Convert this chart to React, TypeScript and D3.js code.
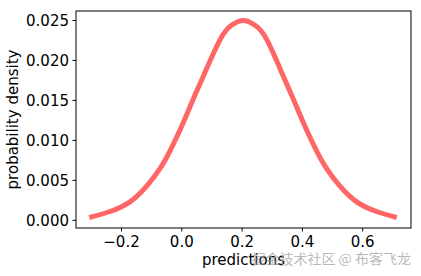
import React from "react";
import * as d3 from "d3";

const xValues = [-0.307, -0.238, -0.172, -0.116, -0.072, -0.039, 0.0, 0.035, 0.071, 0.127, 0.165, 0.204, 0.243, 0.282, 0.337, 0.373, 0.408, 0.447, 0.48, 0.524, 0.58, 0.646, 0.713];
const yValues = [0.00035, 0.0011, 0.0023, 0.0043, 0.0065, 0.0087, 0.0118, 0.0149, 0.018, 0.0226, 0.0244, 0.025, 0.0244, 0.0226, 0.018, 0.0149, 0.0118, 0.0087, 0.0065, 0.0043, 0.0023, 0.0011, 0.00035];
const xTicks = [-0.2, 0.0, 0.2, 0.4, 0.6];
const xTickLabels = ["\u22120.2", "0.0", "0.2", "0.4", "0.6"];
const yTicks = [0.0, 0.005, 0.01, 0.015, 0.02, 0.025];
const yTickLabels = ["0.000", "0.005", "0.010", "0.015", "0.020", "0.025"];

const W = 421, H = 276;
const left = 76, right = 411, top = 11, bottom = 228;

export default function App() {
  const x = d3.scaleLinear().domain([0, 0.2]).range([181.8, 242.1]);
  const y = d3.scaleLinear().domain([0, 0.025]).range([220.3, 20.5]);
  const pts = xValues.map((v, i) => [v, yValues[i]] as [number, number]);
  const line = d3.line<[number, number]>().x(d => x(d[0])).y(d => y(d[1])).curve(d3.curveNatural);
  const font = "DejaVu Sans, sans-serif";
  return (
    <svg width={W} height={H} style={{ position: "absolute", left: 0, top: 0, background: "#fff" }} fontFamily={font}>
      <rect x={0} y={0} width={W} height={H} fill="#fff" />
      <path d={line(pts) || ""} fill="none" stroke="#ff6666" strokeWidth={5} strokeLinecap="butt" strokeLinejoin="round" />
      <rect x={left} y={top} width={right - left} height={bottom - top} fill="none" stroke="#000" strokeWidth={1} />
      {yTicks.map((t, i) => (
        <g key={"y" + i}>
          <line x1={left - 3.5} x2={left} y1={y(t)} y2={y(t)} stroke="#000" strokeWidth={1} />
          <text x={left - 7} y={y(t)} dy="0.36em" textAnchor="end" fontSize={15} fill="#000">{yTickLabels[i]}</text>
        </g>
      ))}
      {xTicks.map((t, i) => (
        <g key={"x" + i}>
          <line x1={x(t)} x2={x(t)} y1={bottom} y2={bottom + 3.5} stroke="#000" strokeWidth={1} />
          <text x={x(t)} y={246.5} textAnchor="middle" fontSize={15} fill="#000">{xTickLabels[i]}</text>
        </g>
      ))}
      <text x={(left + right) / 2} y={265} textAnchor="middle" fontSize={15} fill="#000">predictions</text>
      <text transform={`translate(18,${(top + bottom) / 2}) rotate(-90)`} textAnchor="middle" fontSize={15} fill="#000">probability density</text>
      <text x={411} y={264} textAnchor="end" fontSize={14} fill="#999" fillOpacity={0.7} fontFamily="Noto Sans CJK SC, sans-serif">掘金技术社区 @ 布客飞龙</text>
    </svg>
  );
}
